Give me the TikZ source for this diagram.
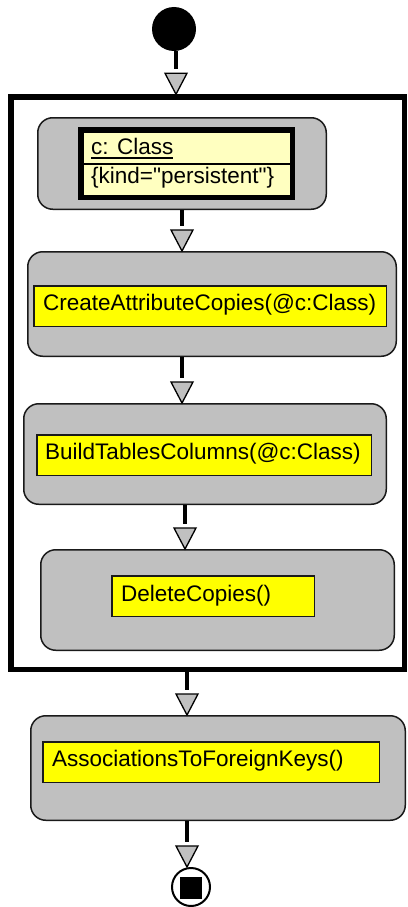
\documentclass[tikz,border=0pt]{standalone}
\usepackage{fontspec}
\setmainfont{Liberation Sans}
\usetikzlibrary{calc}
\definecolor{actgray}{HTML}{C0C0C0}
\definecolor{opyellow}{HTML}{FFFF00}
\definecolor{objyellow}{HTML}{FFFFC0}
\definecolor{edgeline}{HTML}{1A1A1A}

% connector: thick stem, small gap, grey triangle head
\newcommand\flowconn[3]{%
  \draw[flowline] (#1 -| #3) -- (#2 -| #3);
  \draw[flowtip] (#2 -| #3) -- ++(-11,-21) -- ++(22,0) -- cycle;}

\begin{document}
\begin{tikzpicture}[x=1pt,y=-1pt,
  activity/.style={draw=edgeline, line width=1.5pt, fill=actgray,
    rounded corners=15pt, inner sep=0pt},
  opbox/.style={draw=edgeline, line width=1.5pt, fill=opyellow, inner sep=0pt},
  optext/.style={inner sep=0pt, anchor=base west,
    font=\fontsize{22.5}{27}\selectfont},
  flowline/.style={line width=4pt, shorten >=25pt},
  flowtip/.style={draw=black, line width=1.3pt, fill=actgray, line join=miter},
]
\fill[white] (0,0) rectangle (407,907);
\useasboundingbox (0,0) rectangle (407,907);

% x positions of the vertical connectors
\coordinate (c0) at (176,0);
\coordinate (c1) at (182,0);
\coordinate (c2) at (182,0);
\coordinate (c3) at (185,0);
\coordinate (c4) at (187,0);
\coordinate (c5) at (187,0);

% initial node
\node[circle, fill=black, minimum size=44pt, inner sep=0pt] (start) at (174,29) {};

% surrounding region
\node[draw=black, line width=5.5pt, fill=white, minimum width=393.5pt,
  minimum height=572.5pt, inner sep=0pt] (region) at (207.75,383.25) {};

% activity 1: object node c: Class
\node[activity, minimum width=288.5pt, minimum height=91.5pt] (box1) at (182,163.5) {};
\node[draw=black, line width=5.5pt, fill=objyellow, inner sep=0pt,
  minimum width=211.5pt, minimum height=67.5pt] (obj) at (186.5,163.5) {};
\draw[line width=2pt] ([xshift=5.5pt]obj.west) -- ([xshift=-5.5pt]obj.east);
\node[optext] (cls) at (91,154) {c: Class};
\draw[line width=1.5pt] ([yshift=-4pt]cls.base west) -- ([yshift=-4pt]cls.base east);
\node[optext] (kind) at (91,183) {\{kind=\textquotedbl persistent\textquotedbl\}};

% activity 2
\node[activity, minimum width=368.5pt, minimum height=104.5pt] (box2) at (212,304) {};
\node[opbox, minimum width=352.5pt, minimum height=40.5pt] (op2) at (210,306) {};
\node[optext] (t2) at (43,310) {CreateAttributeCopies(@c:Class)};

% activity 3
\node[activity, minimum width=362.5pt, minimum height=100.5pt] (box3) at (205,454) {};
\node[opbox, minimum width=334.5pt, minimum height=40.5pt] (op3) at (204,455) {};
\node[optext] (t3) at (45,459) {BuildTablesColumns(@c:Class)};

% activity 4
\node[activity, minimum width=353.5pt, minimum height=100.5pt] (box4) at (217.5,600) {};
\node[opbox, minimum width=202.5pt, minimum height=40.5pt] (op4) at (213,596) {};
\node[optext] (t4) at (121,601) {DeleteCopies()};

% activity 5
\node[activity, minimum width=374.5pt, minimum height=104.5pt] (box5) at (218,768) {};
\node[opbox, minimum width=336.5pt, minimum height=40.5pt] (op5) at (211,762) {};
\node[optext] (t5) at (52,766) {AssociationsToForeignKeys()};

% final node
\node[circle, draw=black, line width=2pt, fill=white, minimum size=38pt,
  inner sep=0pt] (end) at (191,887) {};
\node[fill=black, minimum size=22pt, inner sep=0pt] (endsq) at (191,887.5) {};

% control flow
\flowconn{start.south}{region.north}{c0}
\flowconn{box1.south}{box2.north}{c1}
\flowconn{box2.south}{box3.north}{c2}
\flowconn{box3.south}{box4.north}{c3}
\flowconn{region.south}{box5.north}{c4}
\flowconn{box5.south}{end.north}{c5}
\end{tikzpicture}
\end{document}
